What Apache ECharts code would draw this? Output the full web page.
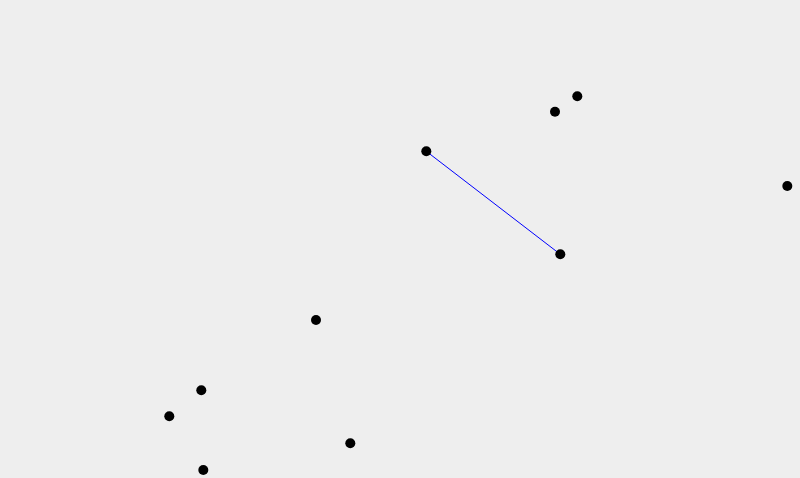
<!DOCTYPE html>
<html>
<head>
<meta charset="utf-8">
<script src="https://cdn.jsdelivr.net/npm/echarts@6/dist/echarts.min.js"></script>
<style>
html, body { margin: 0; padding: 0; background: #eeeeee; }
#chart { width: 800px; height: 478px; }
</style>
</head>
<body>
<div id="chart"></div>
<script>
// point positions (x, y)
var pointX = [426.3, 560.3, 555, 577.3, 787.3, 316, 201.3, 169.3, 350.3, 203.3];
var pointY = [151.3, 254.3, 111.7, 96.3, 186, 320, 390.3, 416.3, 443.3, 470];
// indices of the points joined by the blue segment
var linkFrom = 0;
var linkTo = 1;

var chart = echarts.init(document.getElementById('chart'));

var points = pointX.map(function (x, i) { return [x, pointY[i]]; });

var option = {
    backgroundColor: '#eeeeee',
    animation: false,
    grid: { left: 0, right: 0, top: 0, bottom: 0 },
    xAxis: { type: 'value', min: 0, max: 800, show: false },
    yAxis: { type: 'value', min: 0, max: 478, inverse: true, show: false },
    series: [
        {
            type: 'line',
            data: [points[linkFrom], points[linkTo]],
            showSymbol: false,
            lineStyle: { color: '#0000ff', width: 1 },
            z: 1
        },
        {
            type: 'scatter',
            data: points,
            symbolSize: 10,
            itemStyle: { color: '#000000', opacity: 1 },
            z: 2
        }
    ]
};
chart.setOption(option);
</script>
</body>
</html>
